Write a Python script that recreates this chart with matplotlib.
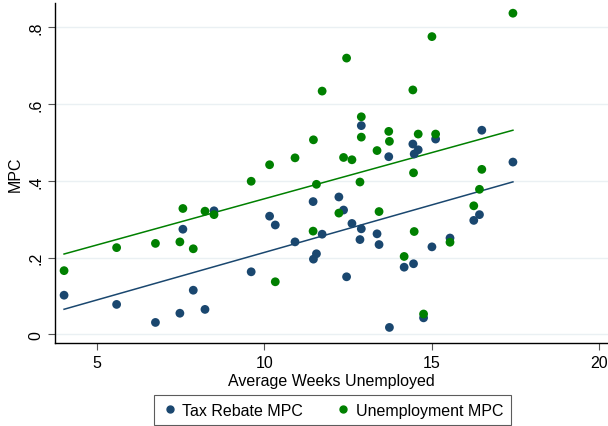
import numpy as np
import matplotlib
matplotlib.use("Agg")
import matplotlib.pyplot as plt

plt.rcParams['font.family'] = ['Liberation Sans', 'DejaVu Sans']

# Average weeks unemployed per state (shared x for both series)
weeks = [4.02, 5.59, 6.75, 7.48, 7.57, 7.88, 8.23, 8.50, 9.61, 10.16,
         10.33, 10.92, 11.46, 11.47, 11.56, 11.73, 12.23, 12.37, 12.46, 12.62,
         12.86, 12.90, 12.90, 13.37, 13.43, 13.72, 13.74, 14.18, 14.44, 14.46,
         14.48, 14.60, 14.76, 15.01, 15.12, 15.55, 16.26, 16.43, 16.50, 17.43]
tax_rebate_mpc = [0.102, 0.078, 0.031, 0.055, 0.274, 0.115, 0.065, 0.322, 0.163, 0.308,
                  0.285, 0.241, 0.346, 0.196, 0.210, 0.261, 0.358, 0.324, 0.150, 0.289,
                  0.247, 0.275, 0.544, 0.262, 0.234, 0.463, 0.018, 0.175, 0.496, 0.184,
                  0.470, 0.481, 0.043, 0.228, 0.509, 0.251, 0.297, 0.312, 0.532, 0.449]
unemp_mpc = [0.166, 0.226, 0.237, 0.241, 0.328, 0.223, 0.321, 0.312, 0.399, 0.442,
             0.137, 0.460, 0.269, 0.507, 0.391, 0.634, 0.316, 0.461, 0.720, 0.455,
             0.397, 0.567, 0.514, 0.479, 0.320, 0.529, 0.503, 0.203, 0.637, 0.421,
             0.268, 0.522, 0.053, 0.776, 0.522, 0.240, 0.335, 0.378, 0.430, 0.837]

navy = '#1a476f'
green = '#008000'

fig = plt.figure(figsize=(6.08, 4.27), dpi=100)
ax = fig.add_axes([0.0905, 0.194, 0.9095, 0.797])

x = np.array(weeks)
for y, col in [(tax_rebate_mpc, navy), (unemp_mpc, green)]:
    y = np.array(y)
    ax.scatter(x, y, s=40, color=col, edgecolors='none', zorder=3)
# linear fit lines
for y, col in [(tax_rebate_mpc, navy), (unemp_mpc, green)]:
    b, a = np.polyfit(x, np.array(y), 1)
    xs = np.array([x.min(), x.max()])
    ax.plot(xs, a + b * xs, color=col, lw=1.1, zorder=2)

ax.set_xlim(3.75, 20.27)
ax.set_ylim(-0.023, 0.864)
ax.set_xticks([5, 10, 15, 20])
ax.set_yticks([0, 0.2, 0.4, 0.6, 0.8])
ax.set_yticklabels(['0', '.2', '.4', '.6', '.8'], rotation=90, va='center')
ax.grid(axis='y', color='#eaf0f3', lw=1)
ax.set_axisbelow(True)
for s in ['top', 'right']:
    ax.spines[s].set_visible(False)
for s in ['left', 'bottom']:
    ax.spines[s].set_linewidth(1.0)
ax.tick_params(labelsize=11.5, length=5, width=0.8, color='#555555')
ax.set_xlabel('Average Weeks Unemployed', fontsize=11.5, labelpad=2)
ax.set_ylabel('MPC', fontsize=11.5, labelpad=4)

h1 = plt.Line2D([], [], marker='o', ls='none', color=navy, markersize=5)
h2 = plt.Line2D([], [], marker='o', ls='none', color=green, markersize=5)
leg = fig.legend([h1, h2], ['Tax Rebate MPC', 'Unemployment MPC'], loc='lower center',
                 bbox_to_anchor=(0.547, 0.003), ncol=2, fontsize=11.5, frameon=True,
                 fancybox=False, edgecolor='#333333', handletextpad=0.3,
                 columnspacing=2.0, borderpad=0.45, handlelength=1.0, borderaxespad=0)
leg.get_frame().set_linewidth(0.8)

fig.savefig('out.png', dpi=100)
